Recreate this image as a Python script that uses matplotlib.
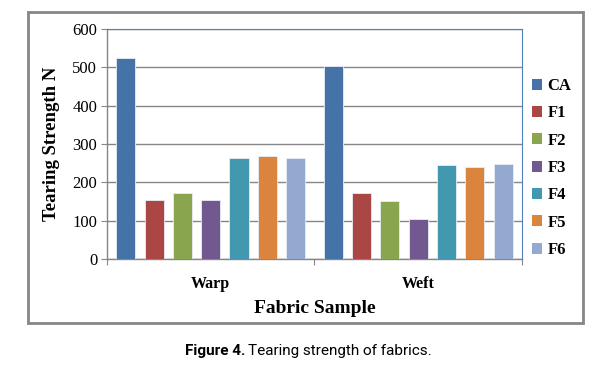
import matplotlib.pyplot as plt
from matplotlib.patches import Rectangle, Patch

groups = ['Warp', 'Weft']
samples = ['CA', 'F1', 'F2', 'F3', 'F4', 'F5', 'F6']
warp = [525, 154, 171, 153, 263, 269, 264]
weft = [503, 173, 151, 105, 246, 240, 249]
colors = ['#4572A7', '#AA4643', '#89A54E', '#71588F', '#4198AF', '#DB843D', '#93A9CF']

fig = plt.figure(figsize=(5.96, 3.70), dpi=100)
ax = fig.add_axes([0.1795, 0.30, 0.6963, 0.6216])

step = 0.1364
width = 0.092
for i, s in enumerate(samples):
    off = (i - 3) * step
    ax.bar([0 + off, 1 + off], [warp[i], weft[i]], width=width, color=colors[i],
           edgecolor='#e8edf4', linewidth=0.6, zorder=3)

ax.set_xlim(-0.5, 1.5)
ax.set_ylim(0, 600)
ax.set_yticks(range(0, 601, 100))
ax.set_yticklabels([str(v) for v in range(0, 601, 100)], family='Liberation Serif', fontsize=12)
ax.grid(axis='y', color='#868686', linewidth=1, zorder=0)

ax.set_xticks([-0.5, 0.5, 1.5])
ax.set_xticklabels([])
ax.set_xticks([0, 1], minor=True)
ax.set_xticklabels(groups, minor=True, family='Liberation Serif', fontweight='bold', fontsize=11.5)
ax.tick_params(axis='x', which='minor', length=0, pad=12)
ax.tick_params(axis='x', which='major', length=4, color='#868686')
ax.tick_params(axis='y', length=4, color='#868686', pad=3)

for side in ['top', 'right']:
    ax.spines[side].set_color('#4f81bd')
    ax.spines[side].set_linewidth(0.8)
for side in ['left', 'bottom']:
    ax.spines[side].set_color('#868686')
    ax.spines[side].set_linewidth(1)

ax.set_ylabel('Tearing Strength N', family='Liberation Serif', fontweight='bold', fontsize=13.5, labelpad=9)
ax.set_xlabel('Fabric Sample', family='Liberation Serif', fontweight='bold', fontsize=14, labelpad=6)

handles = [Patch(facecolor=c, edgecolor='none') for c in colors]
fig.legend(handles, samples, loc='center left', bbox_to_anchor=(0.878, 0.546), frameon=False,
           prop={'family': 'Liberation Serif', 'weight': 'bold', 'size': 12},
           handlelength=0.65, handleheight=0.65, handletextpad=0.3, labelspacing=0.68, borderpad=0)

fig.patches.append(Rectangle((0.047, 0.127), 0.931, 0.8405, transform=fig.transFigure,
                             fill=False, edgecolor='#868686', linewidth=2))

fig.text(0.411, 0.051, 'Figure 4.', family='Roboto',
         fontweight='bold', fontsize=11, ha='right', va='center')
fig.text(0.416, 0.051, 'Tearing strength of fabrics.', family='Roboto',
         fontsize=11, ha='left', va='center')

fig.savefig('out.png', dpi=100)
